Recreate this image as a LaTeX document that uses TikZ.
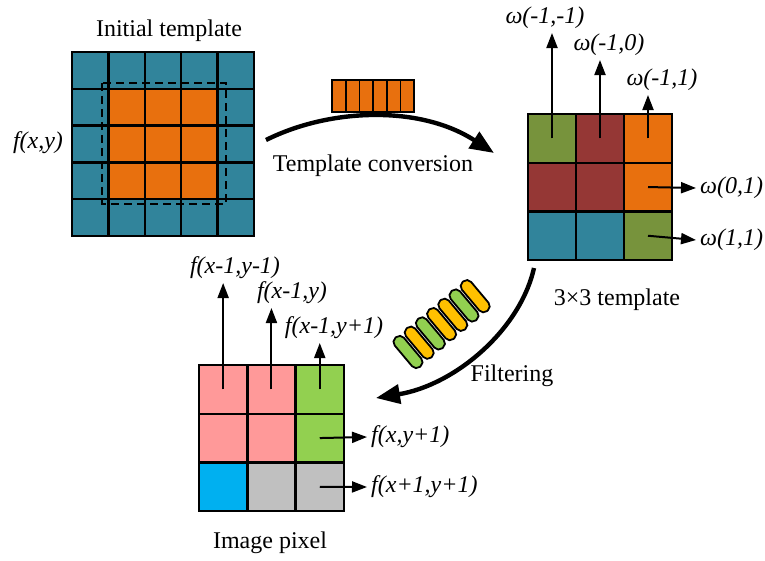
\documentclass[tikz,border=0pt]{standalone}
\usepackage{fontspec}
\setmainfont{Liberation Serif}
\usetikzlibrary{arrows.meta,calc,positioning}
\definecolor{tplteal}{HTML}{31849B}
\definecolor{tplorange}{HTML}{E8700E}
\definecolor{tplolive}{HTML}{77933C}
\definecolor{tplbrown}{HTML}{953735}
\definecolor{pixpink}{HTML}{FF9999}
\definecolor{pixgreen}{HTML}{92D050}
\definecolor{pixcyan}{HTML}{00B0F0}
\definecolor{pixgray}{HTML}{C0C0C0}
\definecolor{capyellow}{HTML}{FFC000}
\newcommand\figfont{\fontsize{24pt}{28pt}\selectfont}
\tikzset{
  cell/.style={draw, line width=2.4pt, inner sep=0pt, outer sep=0pt, fill=#1},
  small cell/.style={cell=#1, minimum width=36.4pt, minimum height=36.8pt},
  big cell/.style={cell=#1, minimum width=48.2pt, minimum height=48.7pt},
  pointer/.style={-{Triangle[length=15pt,width=11pt]}, line width=2pt},
  flow/.style={-{Triangle[length=24pt,width=19pt]}, line width=4.4pt},
  tag/.style={font=\figfont\itshape, inner sep=4pt},
  caption/.style={font=\figfont, inner sep=2pt},
  bar/.style={draw, line width=1.8pt, fill=tplorange, minimum width=13.7pt,
    minimum height=32pt, inner sep=0pt},
  capsule/.style={draw, line width=1.8pt, rounded corners=5.5pt, minimum width=38pt,
    minimum height=12pt, inner sep=0pt, rotate=-50},
}

\begin{document}
\begin{tikzpicture}[x=1pt, y=-1pt]
  \useasboundingbox (0,0) rectangle (765,560);

  % Initial template (5x5)
  \foreach \r in {0,...,4}
    \foreach \c in {0,...,4} {
      \pgfmathtruncatemacro\inside{(\r>0)*(\r<4)*(\c>0)*(\c<4)}
      \ifnum\inside=1 \def\col{tplorange}\else\def\col{tplteal}\fi
      \node[small cell=\col] (it-\r-\c) at (72+36.4*\c+18.2, 52+36.8*\r+18.4) {};
    }
  \draw[line width=2pt, dash pattern=on 8pt off 5pt]
    ([shift={(-6,-6)}]it-1-1.north west) rectangle ([shift={(8,5)}]it-3-3.south east);
  \node[caption] (init) at (169,31) {Initial template};
  \node[tag] (fxy) at (38,143) {f(x,y)};

  % 3x3 template
  \foreach \r/\c/\col in {0/0/tplolive, 0/1/tplbrown, 0/2/tplorange,
                          1/0/tplbrown, 1/1/tplbrown, 1/2/tplorange,
                          2/0/tplteal, 2/1/tplteal, 2/2/tplolive}
    \node[big cell=\col] (tp-\r-\c) at (528+48*\c+24, 114+48.7*\r+24.35) {};
  \node[caption] (tpl) at (617,300) {3×3 template};

  % weights
  \node[tag, anchor=south] (w-mm) at (545,33) {ω(-1,-1)};
  \node[tag, anchor=south] (w-mz) at (609,60) {ω(-1,0)};
  \node[tag, anchor=south] (w-mp) at (662,95) {ω(-1,1)};
  \node[tag, anchor=west] (w-zp) at (696,188) {ω(0,1)};
  \node[tag, anchor=west] (w-pp) at (696,240) {ω(1,1)};
  \draw[pointer] (tp-0-0.center) -- (tp-0-0.center |- w-mm.south);
  \draw[pointer] (tp-0-1.center) -- (tp-0-1.center |- w-mz.south);
  \draw[pointer] (tp-0-2.center) -- (tp-0-2.center |- w-mp.south);
  \draw[pointer] (tp-1-2.center) -- (w-zp.west);
  \draw[pointer] (tp-2-2.center) -- (w-pp.west);

  % Image pixel
  \foreach \r/\c/\col in {0/0/pixpink, 0/1/pixpink, 0/2/pixgreen,
                          1/0/pixpink, 1/1/pixpink, 1/2/pixgreen,
                          2/0/pixcyan, 2/1/pixgray, 2/2/pixgray}
    \node[big cell=\col] (ip-\r-\c) at (199+48.3*\c+24.15, 365+48.7*\r+24.35) {};
  \node[caption] (pix) at (270,543) {Image pixel};

  % pixel values
  \node[tag, anchor=south] (f-mm) at (235,283) {f(x-1,y-1)};
  \node[tag, anchor=south] (f-mz) at (292,308) {f(x-1,y)};
  \node[tag, anchor=south] (f-mp) at (334,343) {f(x-1,y+1)};
  \node[tag, anchor=west] (f-zp) at (367,437) {f(x,y+1)};
  \node[tag, anchor=west] (f-pp) at (367,487) {f(x+1,y+1)};
  \draw[pointer] (ip-0-0.center) -- (ip-0-0.center |- f-mm.south);
  \draw[pointer] (ip-0-1.center) -- (ip-0-1.center |- f-mz.south);
  \draw[pointer] (ip-0-2.center) -- (ip-0-2.center |- f-mp.south);
  \draw[pointer] (ip-1-2.center) -- (f-zp.west);
  \draw[pointer] (ip-2-2.center) -- (f-pp.west);

  % Template conversion
  \foreach \i in {0,...,5}
    \node[bar] (bar-\i) at (332+13.7*\i+6.85, 96) {};
  \coordinate (conv-start) at (266,140);
  \coordinate (conv-end) at (494,153);
  \draw[flow] (conv-start) .. controls (330,108) and (420,105) .. (conv-end);
  \node[caption] (conv) at (373,166) {Template conversion};

  % Filtering
  \foreach \i/\col in {0/pixgreen, 1/capyellow, 2/pixgreen, 3/capyellow,
                       4/capyellow, 5/pixgreen, 6/capyellow}
    \node[capsule, fill=\col] (cap-\i) at (408+11.2*\i, 352-9.3*\i) {};
  \coordinate (filt-start) at (534,268);
  \coordinate (filt-end) at (376,398);
  \draw[flow] (filt-start) .. controls (520,330) and (455,385) .. (filt-end);
  \node[caption] (filt) at (512,376) {Filtering};
\end{tikzpicture}
\end{document}
